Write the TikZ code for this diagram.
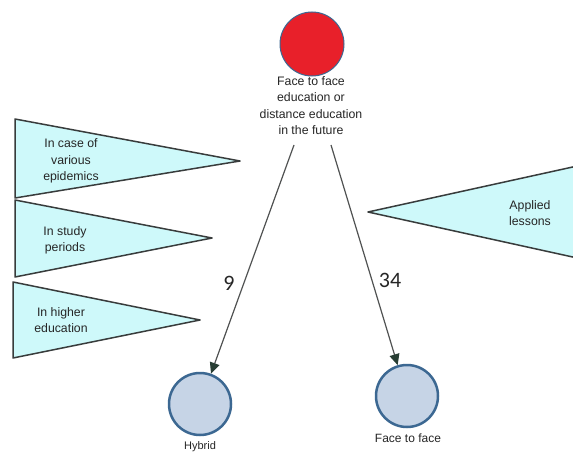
\documentclass[tikz,border=0pt]{standalone}
\usepackage{fontspec}
\setmainfont{Liberation Sans}
\newfontfamily\numfont{Carlito}
\usetikzlibrary{arrows.meta}
\definecolor{tri}{RGB}{206,249,250}
\definecolor{triedge}{RGB}{56,60,60}
\definecolor{redfill}{RGB}{232,32,42}
\definecolor{blueedge}{RGB}{60,104,146}
\definecolor{bluefill}{RGB}{198,212,230}
\definecolor{arrowc}{RGB}{80,82,82}
\definecolor{headc}{RGB}{40,62,52}
\begin{document}
\begin{tikzpicture}[x=1pt,y=-1pt,
  lbl/.style={font=\fontsize{12.3}{16.3}\selectfont, align=center, text=black!85},
  pennant/.style={draw=triedge, fill=tri, line width=1.5pt, line join=round},
  bigcirc/.style={circle, minimum size=62pt, inner sep=0pt},
  conn/.style={draw=arrowc, line width=1.2pt, -{Triangle[length=11pt,width=10pt,fill=headc,color=headc]}},
  num/.style={font=\numfont\fontsize{22}{24}\selectfont, text=black!85}]
\useasboundingbox (0,0) rectangle (573,452);
\fill[white] (0,0) rectangle (573,452);
% pennants
\draw[pennant] (15,119) -- (240,161) -- (15,198) -- cycle;
\draw[pennant] (15,200) -- (212,238) -- (15,277) -- cycle;
\draw[pennant] (13,282) -- (200,320) -- (13,358) -- cycle;
\draw[pennant] (600,161) -- (368,212) -- (600,263) -- cycle;
\node[lbl] (p1) at (71,161) {In case of\\various\\epidemics};
\node[lbl] (p2) at (65,240) {In study\\periods};
\node[lbl] (p3) at (61,320) {In higher\\education};
\node[lbl] (p4) at (530,213) {Applied\\lessons};
% circles
\node[bigcirc, fill=redfill, draw=blueedge, line width=1pt, minimum size=64pt] (top) at (312,44) {};
\node[lbl, anchor=north] (toptxt) at (311,73) {Face to face\\education or\\distance education\\in the future};
\node[bigcirc, fill=bluefill, draw=blueedge, line width=2.5pt] (hyb) at (200,404) {};
\node[bigcirc, fill=bluefill, draw=blueedge, line width=2.5pt] (f2f) at (407,396) {};
\node[lbl, anchor=north, font=\fontsize{11}{13}\selectfont] (hybt) at (200,438) {Hybrid};
\node[lbl, anchor=north, font=\fontsize{12}{13}\selectfont] (f2ft) at (408,430) {Face to face};
% connectors
\coordinate (s1) at (294,145);
\coordinate (s2) at (331,145);
\draw[conn] (s1) -- (hyb);
\draw[conn] (s2) -- (f2f);
\node[num] (n9) at (229,283) {9};
\node[num] (n34) at (390,280) {34};
\end{tikzpicture}
\end{document}
